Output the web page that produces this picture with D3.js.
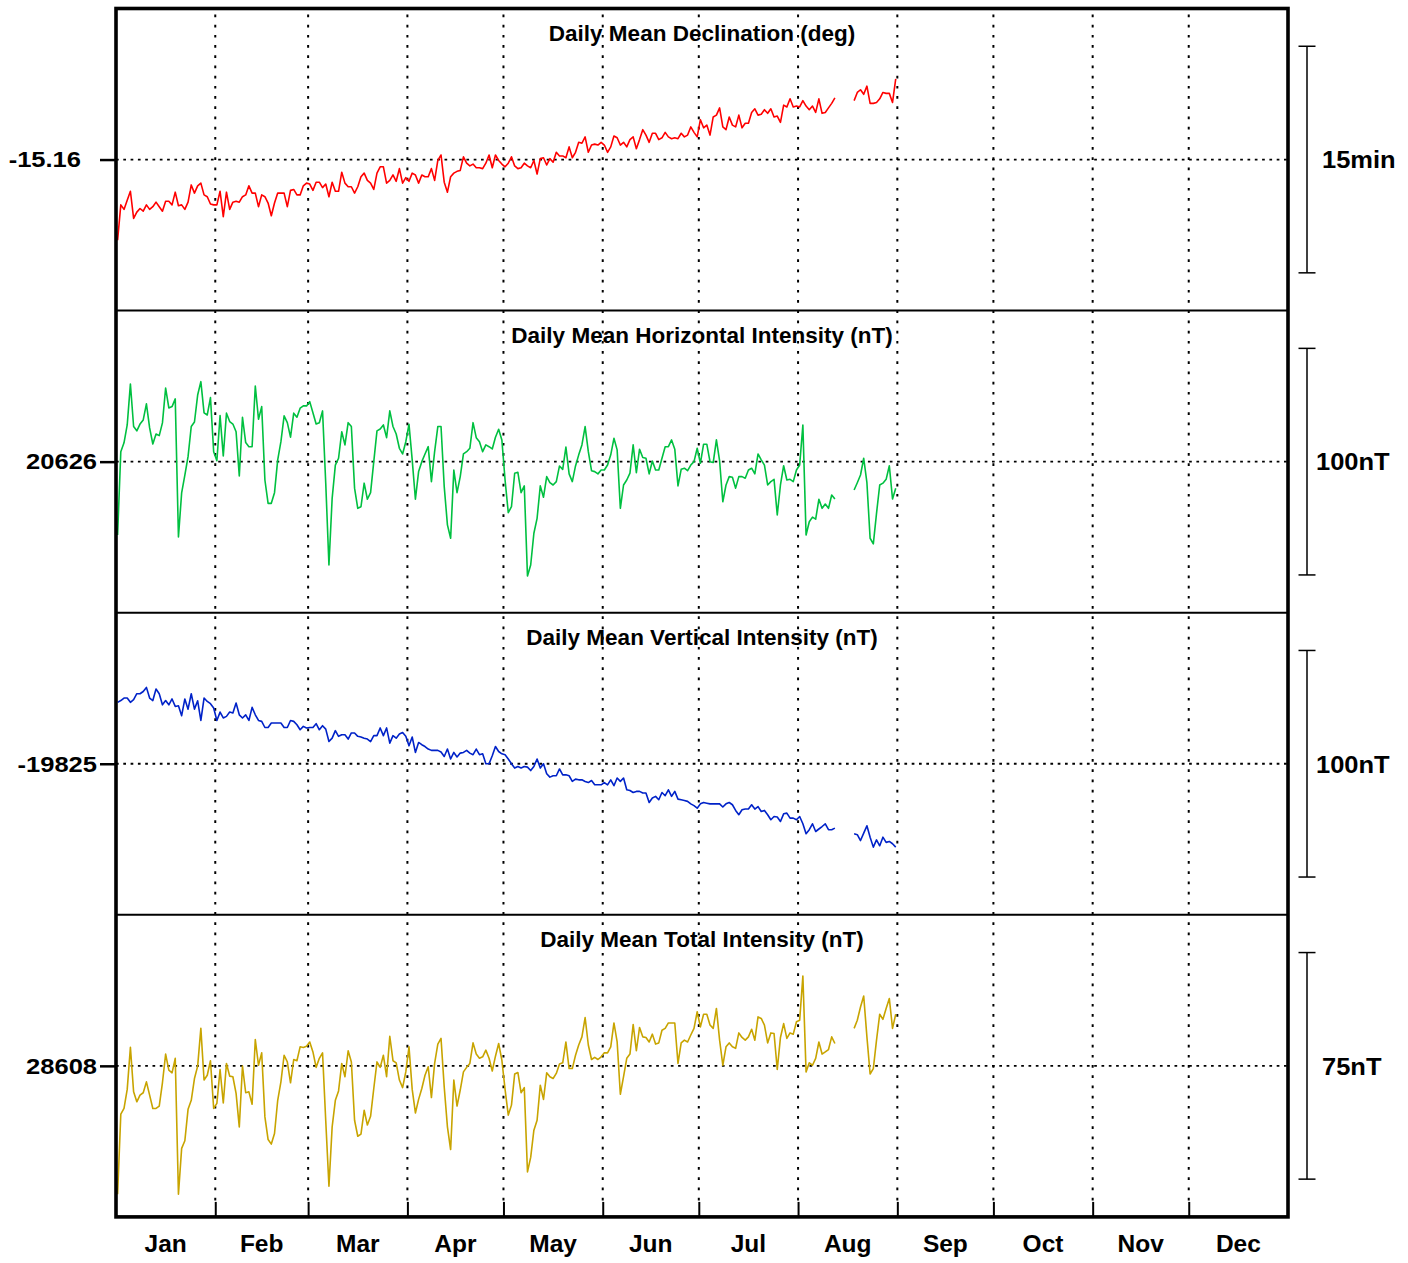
<!DOCTYPE html>
<html>
<head>
<meta charset="utf-8">
<script src="https://cdn.jsdelivr.net/npm/d3@7"></script>
<style>
  body { margin: 0; background: #fff; }
  text { font-family: "Liberation Sans", Arial, Helvetica, sans-serif; font-weight: bold; fill: #000; }
</style>
</head>
<body>
<div id="chart"></div>
<script>
// Daily means, one value per day from 1 Jan (leap year), data gap in mid August

var monthNames = ["Jan", "Feb", "Mar", "Apr", "May", "Jun", "Jul", "Aug", "Sep", "Oct", "Nov", "Dec"];
var monthStart = [0, 31, 60, 91, 121, 152, 182, 213, 244, 274, 305, 335, 366];

// first day after the gap
var afterGapDay = 230;

// declination (deg)
var decA = [
  -15.249, -15.210, -15.215, -15.205, -15.195, -15.225, -15.218, -15.214, -15.217, -15.210,
  -15.215, -15.212, -15.207, -15.212, -15.217, -15.206, -15.206, -15.210, -15.196, -15.211,
  -15.210, -15.215, -15.207, -15.188, -15.197, -15.189, -15.186, -15.199, -15.201, -15.209,
  -15.210, -15.210, -15.195, -15.223, -15.196, -15.215, -15.207, -15.206, -15.207, -15.201,
  -15.199, -15.189, -15.197, -15.197, -15.212, -15.199, -15.201, -15.208, -15.222, -15.208,
  -15.197, -15.197, -15.197, -15.212, -15.194, -15.193, -15.199, -15.199, -15.189, -15.186,
  -15.187, -15.194, -15.185, -15.185, -15.191, -15.187, -15.201, -15.185, -15.195, -15.195,
  -15.174, -15.186, -15.190, -15.190, -15.197, -15.190, -15.179, -15.175, -15.183, -15.186,
  -15.193, -15.175, -15.168, -15.168, -15.186, -15.183, -15.177, -15.184, -15.170, -15.186,
  -15.180, -15.184, -15.175, -15.177, -15.186, -15.177, -15.179, -15.179, -15.170, -15.183,
  -15.161, -15.155, -15.185, -15.196, -15.179, -15.175, -15.173, -15.172, -15.157, -15.164,
  -15.167, -15.165, -15.169, -15.169, -15.170, -15.164, -15.155, -15.169, -15.155, -15.161,
  -15.165, -15.168, -15.164, -15.157, -15.167, -15.170, -15.169, -15.164, -15.167, -15.169,
  -15.161, -15.176, -15.159, -15.158, -15.166, -15.159, -15.163, -15.152, -15.156, -15.156,
  -15.158, -15.146, -15.158, -15.152, -15.141, -15.142, -15.135, -15.152, -15.144, -15.143,
  -15.144, -15.141, -15.144, -15.152, -15.146, -15.134, -15.136, -15.144, -15.141, -15.146,
  -15.138, -15.135, -15.148, -15.138, -15.127, -15.133, -15.141, -15.131, -15.131, -15.138,
  -15.136, -15.130, -15.135, -15.137, -15.136, -15.137, -15.131, -15.135, -15.133, -15.124,
  -15.130, -15.135, -15.116, -15.125, -15.122, -15.133, -15.113, -15.111, -15.103, -15.124,
  -15.127, -15.113, -15.122, -15.124, -15.111, -15.125, -15.120, -15.120, -15.108, -15.104,
  -15.111, -15.110, -15.105, -15.109, -15.104, -15.113, -15.112, -15.119, -15.100, -15.102,
  -15.093, -15.102, -15.101, -15.102, -15.095, -15.101, -15.105, -15.101, -15.108, -15.093,
  -15.109, -15.108, -15.103, -15.098, -15.092
];
var decB = [-15.095, -15.086, -15.083, -15.088, -15.079, -15.098, -15.098, -15.097, -15.093, -15.086, -15.087, -15.087, -15.097, -15.071];

// horizontal intensity (nT)
var horA = [
  20593.6, 20630.4, 20634.3, 20642.2, 20660.3, 20641.5, 20639.6, 20642.6, 20644.4, 20651.5,
  20640.9, 20633.8, 20638.2, 20637.5, 20643.1, 20658.5, 20649.7, 20650.3, 20653.7, 20592.8,
  20612.2, 20620.1, 20628.2, 20641.5, 20643.5, 20655.4, 20661.3, 20647.5, 20646.6, 20654.3,
  20630.4, 20626.4, 20646.3, 20628.5, 20647.4, 20643.7, 20642.6, 20639.2, 20619.7, 20645.6,
  20634.4, 20632.6, 20632.6, 20659.4, 20644.7, 20650.3, 20617.9, 20607.6, 20607.6, 20612.3,
  20626.8, 20634.8, 20646.2, 20643.2, 20636.8, 20647.4, 20645.6, 20649.6, 20650.6, 20650.6,
  20652.5, 20647.6, 20642.6, 20643.2, 20648.4, 20616.5, 20580.4, 20609.8, 20624.5, 20627.5,
  20639.2, 20633.4, 20643.2, 20641.5, 20614.3, 20605.4, 20606.1, 20616.5, 20609.4, 20612.3,
  20626.0, 20639.6, 20640.4, 20642.2, 20636.6, 20648.4, 20641.5, 20638.2, 20631.9, 20629.4,
  20634.8, 20642.5, 20626.8, 20609.4, 20621.6, 20626.0, 20629.4, 20632.6, 20617.2, 20630.4,
  20641.5, 20641.5, 20615.0, 20598.1, 20592.2, 20622.3, 20612.3, 20619.4, 20629.4, 20630.4,
  20631.9, 20643.2, 20636.6, 20634.8, 20630.4, 20633.4, 20632.6, 20631.6, 20636.8, 20640.3,
  20635.6, 20617.9, 20603.5, 20606.1, 20620.9, 20621.3, 20612.3, 20615.3, 20575.5, 20580.4,
  20594.4, 20601.0, 20615.3, 20610.3, 20619.4, 20616.7, 20615.7, 20617.2, 20624.1, 20622.6,
  20632.4, 20620.6, 20617.2, 20624.1, 20629.0, 20633.4, 20641.5, 20630.4, 20622.0, 20621.6,
  20620.6, 20622.3, 20622.3, 20624.5, 20629.0, 20636.3, 20631.2, 20605.4, 20615.7, 20617.9,
  20620.9, 20633.4, 20621.1, 20631.5, 20627.8, 20627.5, 20620.6, 20626.3, 20622.3, 20622.3,
  20627.5, 20632.6, 20632.6, 20635.6, 20631.5, 20615.3, 20622.6, 20623.1, 20622.0, 20624.5,
  20626.0, 20631.9, 20625.3, 20633.7, 20633.7, 20626.0, 20625.6, 20635.6, 20626.3, 20608.3,
  20615.7, 20619.4, 20619.1, 20614.3, 20619.4, 20619.4, 20618.7, 20622.3, 20623.1, 20620.6,
  20629.4, 20626.8, 20624.5, 20615.7, 20617.2, 20618.2, 20602.5, 20615.7, 20624.2, 20617.9,
  20618.2, 20617.2, 20622.3, 20624.5, 20642.2, 20593.6, 20599.5, 20601.5, 20600.6, 20609.4,
  20605.4, 20607.3, 20605.4, 20611.3, 20609.5
];
var horB = [20613.5, 20616.7, 20620.1, 20627.5, 20616.7, 20592.2, 20589.7, 20603.2, 20615.7, 20616.5, 20618.2, 20624.2, 20609.5, 20614.3];

// vertical intensity (nT)
var verA = [
  -19797.9, -19797.1, -19796.0, -19796.0, -19797.9, -19796.7, -19794.1, -19794.1, -19793.1, -19791.3,
  -19796.0, -19797.1, -19792.0, -19794.1, -19799.0, -19797.1, -19799.0, -19796.4, -19799.7, -19799.4,
  -19803.8, -19796.4, -19800.9, -19794.1, -19800.9, -19797.2, -19805.9, -19796.0, -19797.5, -19798.5,
  -19800.4, -19805.9, -19802.2, -19804.8, -19804.1, -19802.2, -19802.6, -19798.2, -19803.4, -19804.8,
  -19803.4, -19805.9, -19800.1, -19803.4, -19805.9, -19806.3, -19809.0, -19809.0, -19807.0, -19807.0,
  -19807.0, -19807.0, -19809.0, -19809.0, -19805.9, -19806.3, -19807.8, -19810.0, -19808.5, -19809.2,
  -19809.0, -19809.0, -19807.3, -19810.0, -19808.2, -19809.7, -19815.2, -19813.7, -19810.4, -19812.9,
  -19812.2, -19812.2, -19814.1, -19811.4, -19811.4, -19812.9, -19813.2, -19813.7, -19814.1, -19815.2,
  -19812.6, -19812.6, -19809.2, -19812.6, -19809.2, -19815.9, -19812.6, -19813.7, -19811.9, -19811.2,
  -19812.9, -19817.1, -19813.2, -19820.0, -19815.6, -19816.6, -19817.4, -19818.5, -19819.1, -19819.1,
  -19819.1, -19819.8, -19821.8, -19818.5, -19822.9, -19820.0, -19822.0, -19820.3, -19820.0, -19819.1,
  -19820.3, -19821.0, -19818.5, -19821.0, -19820.6, -19825.0, -19825.0, -19821.5, -19817.4, -19819.6,
  -19820.6, -19821.0, -19822.9, -19825.0, -19826.9, -19826.2, -19826.9, -19826.2, -19826.5, -19828.0,
  -19826.2, -19822.9, -19826.9, -19825.0, -19829.4, -19830.9, -19830.3, -19830.3, -19827.3, -19829.9,
  -19829.9, -19830.3, -19832.8, -19831.8, -19832.1, -19832.1, -19832.8, -19833.3, -19832.4, -19834.3,
  -19834.3, -19834.3, -19833.3, -19834.3, -19832.1, -19834.7, -19831.3, -19832.8, -19831.3, -19836.5,
  -19836.8, -19837.7, -19837.2, -19837.2, -19837.9, -19837.9, -19842.1, -19840.1, -19839.4, -19840.9,
  -19837.7, -19839.1, -19836.5, -19839.4, -19837.2, -19840.6, -19840.9, -19841.2, -19841.6, -19842.7,
  -19843.5, -19844.6, -19842.7, -19842.1, -19842.4, -19842.7, -19842.7, -19842.7, -19842.7, -19844.1,
  -19842.7, -19842.1, -19843.1, -19845.6, -19847.5, -19845.3, -19845.0, -19845.0, -19843.1, -19845.0,
  -19843.9, -19846.1, -19845.6, -19847.5, -19849.7, -19848.3, -19848.5, -19850.5, -19847.1, -19846.8,
  -19849.0, -19849.0, -19849.7, -19848.3, -19851.5, -19855.9, -19854.1, -19851.5, -19854.9, -19853.8,
  -19852.7, -19851.5, -19854.1, -19854.1, -19853.4
];
var verB = [-19855.9, -19856.3, -19858.9, -19855.6, -19852.4, -19857.4, -19861.8, -19858.6, -19861.2, -19857.4, -19859.7, -19859.3, -19860.3, -19861.8];

// total intensity (nT)
var totA = [
  28565.5, 28592.0, 28593.9, 28600.2, 28614.1, 28599.4, 28596.1, 28598.3, 28599.1, 28602.7,
  28598.3, 28593.9, 28593.9, 28594.7, 28602.4, 28611.9, 28606.6, 28605.7, 28610.5, 28565.5,
  28580.7, 28583.2, 28593.6, 28596.6, 28603.8, 28607.9, 28620.4, 28603.3, 28604.9, 28609.7,
  28593.9, 28595.6, 28606.8, 28595.7, 28608.8, 28604.6, 28604.4, 28598.9, 28587.8, 28607.9,
  28599.1, 28599.4, 28595.3, 28616.7, 28608.2, 28612.3, 28591.1, 28583.6, 28582.1, 28585.6,
  28596.6, 28602.7, 28611.5, 28609.3, 28602.4, 28610.1, 28609.7, 28614.3, 28614.1, 28614.5,
  28615.9, 28612.6, 28607.5, 28610.5, 28612.3, 28589.8, 28568.2, 28587.8, 28596.6, 28599.7,
  28608.8, 28604.4, 28613.0, 28609.3, 28590.0, 28584.7, 28585.4, 28593.3, 28588.4, 28591.3,
  28600.5, 28609.3, 28607.5, 28611.5, 28604.4, 28617.8, 28609.7, 28609.0, 28603.3, 28600.8,
  28606.0, 28614.3, 28600.2, 28592.4, 28596.9, 28600.5, 28604.9, 28607.7, 28597.5, 28608.8,
  28615.2, 28617.1, 28601.0, 28587.8, 28580.3, 28603.3, 28594.7, 28600.0, 28606.0, 28607.5,
  28608.8, 28615.6, 28611.9, 28610.5, 28611.0, 28613.2, 28610.5, 28606.3, 28611.2, 28615.4,
  28609.9, 28600.2, 28591.7, 28595.0, 28605.3, 28605.8, 28599.1, 28600.8, 28572.9, 28577.7,
  28586.7, 28590.0, 28601.6, 28596.9, 28605.7, 28604.4, 28603.8, 28605.5, 28608.6, 28609.0,
  28615.9, 28607.1, 28607.1, 28611.5, 28614.9, 28617.6, 28624.0, 28614.9, 28610.1, 28610.8,
  28610.1, 28611.0, 28612.3, 28612.3, 28614.3, 28622.2, 28615.9, 28598.6, 28604.4, 28610.5,
  28611.9, 28621.7, 28613.0, 28620.7, 28617.6, 28617.4, 28615.9, 28618.5, 28615.2, 28615.6,
  28619.8, 28620.4, 28622.2, 28622.2, 28622.2, 28608.8, 28615.6, 28616.5, 28615.9, 28618.2,
  28620.4, 28625.9, 28620.9, 28625.1, 28625.1, 28621.5, 28620.4, 28627.0, 28616.5, 28608.2,
  28614.3, 28615.6, 28614.3, 28613.8, 28618.9, 28617.4, 28616.5, 28617.6, 28620.1, 28616.5,
  28624.2, 28623.7, 28621.5, 28615.6, 28618.9, 28618.7, 28606.8, 28617.4, 28622.0, 28617.1,
  28618.9, 28618.5, 28622.6, 28623.1, 28637.7, 28606.0, 28609.0, 28608.2, 28610.5, 28615.9,
  28611.9, 28612.6, 28613.4, 28617.6, 28615.4
];
var totB = [28620.4, 28623.1, 28627.5, 28631.1, 28617.6, 28605.3, 28607.1, 28616.5, 28625.1, 28623.4, 28627.0, 28630.3, 28620.4, 28625.1];

var panelTitles = ["Daily Mean Declination (deg)", "Daily Mean Horizontal Intensity (nT)",
                   "Daily Mean Vertical Intensity (nT)", "Daily Mean Total Intensity (nT)"];
var baseValues = [-15.16, 20626, -19825, 28608];
var baseLabels = ["-15.16", "20626", "-19825", "28608"];
var barValues = [0.25, 100, 100, 75];          // length of the scale bar in data units
var barLabels = ["15min", "100nT", "100nT", "75nT"];

window.onload = function() {
    drawChart();
};

function drawChart() {
    var width = 1408, height = 1263;
    var left = 116, right = 1288, top = 8.5;
    var panelH = 302.1;
    var bottom = top + 4 * panelH;

    var colors = ["#ff0000", "#00c040", "#0022c8", "#c8a400"];
    var series = [[decA, decB], [horA, horB], [verA, verB], [totA, totB]];
    var labelEnd = [81, 97, 97, 97];
    var barTextX = [1322, 1316, 1316, 1322];

    var svg = d3.select("#chart").append("svg")
        .attr("width", width)
        .attr("height", height);

    var x = d3.scaleLinear().domain([0, 366]).range([left, right]);

    // month grid, dotted
    svg.append("g").selectAll("line")
        .data(monthStart.slice(1, 12))
        .enter().append("line")
        .attr("x1", function(d) { return x(d); })
        .attr("x2", function(d) { return x(d); })
        .attr("y1", top + 6)
        .attr("y2", bottom - 14)
        .attr("stroke", "#000")
        .attr("stroke-width", 2)
        .attr("stroke-dasharray", "2.7,7.5");

    for (var p = 0; p < 4; p++) {
        var pTop = top + p * panelH;
        var half = barValues[p] * 2 / 3;
        var y = d3.scaleLinear()
            .domain([baseValues[p] - half, baseValues[p] + half])
            .range([pTop + panelH, pTop]);
        var yc = y(baseValues[p]);

        // dotted baseline
        svg.append("line")
            .attr("x1", left).attr("x2", right)
            .attr("y1", yc).attr("y2", yc)
            .attr("stroke", "#000")
            .attr("stroke-width", 1.8)
            .attr("stroke-dasharray", "2.7,4.6");

        // panel separator
        if (p > 0) {
            svg.append("line")
                .attr("x1", left).attr("x2", right)
                .attr("y1", pTop).attr("y2", pTop)
                .attr("stroke", "#000")
                .attr("stroke-width", 2);
        }

        // data, with a gap in August
        var segA = series[p][0], segB = series[p][1];
        var pts = segA.map(function(v, i) { return {day: i, v: v}; });
        pts.push({day: segA.length, v: null});
        segB.forEach(function(v, i) { pts.push({day: afterGapDay + i, v: v}); });

        var line = d3.line()
            .defined(function(d) { return d.v !== null; })
            .x(function(d) { return x(d.day + 0.5); })
            .y(function(d) { return y(d.v); });

        svg.append("path")
            .datum(pts)
            .attr("d", line)
            .attr("fill", "none")
            .attr("stroke", colors[p])
            .attr("stroke-width", 1.6)
            .attr("stroke-linejoin", "round");

        // title
        svg.append("text")
            .attr("x", (left + right) / 2)
            .attr("y", pTop + 32)
            .style("text-anchor", "middle")
            .style("font-size", "22.5px")
            .text(panelTitles[p]);

        // left tick + base value
        var ax = svg.append("g")
            .attr("transform", "translate(" + left + ",0)")
            .call(d3.axisLeft(y).tickValues([baseValues[p]]).tickSize(16).tickFormat(""));
        ax.select(".domain").remove();
        ax.selectAll("line").attr("stroke-width", 2.5);

        svg.append("text")
            .attr("transform", "translate(" + labelEnd[p] + "," + (yc + 7.8) + ") scale(1.16,1)")
            .style("text-anchor", "end")
            .style("font-size", "22px")
            .text(baseLabels[p]);

        // scale bar on the right
        var b0 = y(baseValues[p] + barValues[p] / 2), b1 = y(baseValues[p] - barValues[p] / 2);
        var bar = svg.append("g").attr("stroke", "#000").attr("stroke-width", 1.5);
        bar.append("line").attr("x1", 1307).attr("x2", 1307).attr("y1", b0).attr("y2", b1);
        bar.append("line").attr("x1", 1298.5).attr("x2", 1315.5).attr("y1", b0).attr("y2", b0);
        bar.append("line").attr("x1", 1298.5).attr("x2", 1315.5).attr("y1", b1).attr("y2", b1);

        svg.append("text")
            .attr("transform", "translate(" + barTextX[p] + "," + (yc + 8.8) + ") scale(1.04,1)")
            .style("font-size", "24.5px")
            .text(barLabels[p]);
    }

    // month ticks on the bottom edge
    var xAxis = svg.append("g")
        .attr("transform", "translate(0," + bottom + ")")
        .call(d3.axisBottom(x).tickValues(monthStart.slice(1, 12)).tickSize(-15).tickFormat(""));
    xAxis.select(".domain").remove();
    xAxis.selectAll("line").attr("stroke-width", 2);

    // month names, centred in each month
    svg.append("g").selectAll("text")
        .data(monthNames)
        .enter().append("text")
        .attr("x", function(d, i) { return x((monthStart[i] + monthStart[i + 1]) / 2); })
        .attr("y", 1252)
        .style("text-anchor", "middle")
        .style("font-size", "24.5px")
        .text(function(d) { return d; });

    // outer frame
    svg.append("rect")
        .attr("x", left).attr("y", top)
        .attr("width", right - left).attr("height", bottom - top)
        .attr("fill", "none")
        .attr("stroke", "#000")
        .attr("stroke-width", 3.6);
}
</script>
</body>
</html>
